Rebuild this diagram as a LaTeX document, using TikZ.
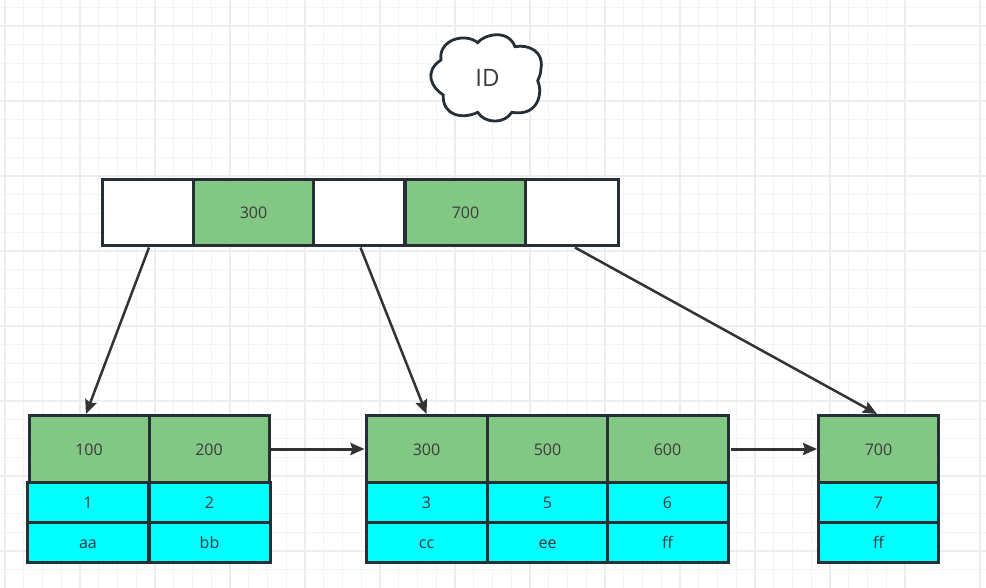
\documentclass[tikz,border=0pt]{standalone}
\usepackage{fontspec}
\setmainfont{Open Sans}
\usetikzlibrary{arrows.meta}
\definecolor{gridgray}{RGB}{243,244,245}
\definecolor{gridmajor}{RGB}{235,237,238}
\definecolor{keygreen}{RGB}{130,199,132}
\definecolor{rowcyan}{RGB}{0,255,255}
\definecolor{celldark}{RGB}{38,46,54}
\definecolor{textgray}{RGB}{60,60,60}
\definecolor{arrowgray}{RGB}{51,51,51}

\begin{document}
\begin{tikzpicture}[
  x=1pt, y=-1pt,
  cell/.style={
    draw=celldark,
    line width=3pt,
    minimum height=#1,
    inner sep=0pt,
    text height=12pt,
    text depth=0pt,
    text=textgray,
    font=\fontsize{16}{18}\selectfont
  },
  gapcell/.style={cell=66pt, fill=white, minimum width=91pt},
  keycell/.style={cell=67pt, fill=keygreen, minimum width=120pt},
  topcell/.style={cell=66pt, fill=keygreen, minimum width=120pt},
  datacell/.style={cell=40pt, fill=rowcyan, minimum width=121pt},
  idcloud/.style={draw=celldark, line width=2.8pt, fill=white},
  idtext/.style={inner sep=0pt, text=textgray, font=\fontsize{24}{28}\selectfont},
  line/.style={-{Stealth[length=14pt,width=12pt,inset=2pt]}, line width=2.5pt, draw=arrowgray}
]
\useasboundingbox (0,0) rectangle (986,588);
\fill[white] (0,0) rectangle (986,588);

% ===== Background grid =====
\foreach \i in {-4,...,48} {
  \draw[gridgray, line width=1.2pt] (5+18.75*\i,0) -- (5+18.75*\i,588);
}
\foreach \i in {-2,...,29} {
  \draw[gridgray, line width=1.2pt] (0,26+18.75*\i) -- (986,26+18.75*\i);
}
\foreach \i in {0,...,13} {
  \draw[gridmajor, line width=1.2pt] (5+75*\i,0) -- (5+75*\i,588);
}
\foreach \i in {0,...,7} {
  \draw[gridmajor, line width=1.2pt] (0,26+75*\i) -- (986,26+75*\i);
}

% ===== Cloud =====
\draw[idcloud] (477.7,42.7) .. controls (483,35) and (508,28) .. (515,46.7)
  .. controls (529,44) and (544,52) .. (541,68) .. controls (540.5,74) .. (537.7,80.7)
  .. controls (543,92) and (539,117) .. (511.7,112.3)
  .. controls (505,124) and (485,124) .. (477.7,112.3)
  .. controls (462,120) and (442,115) .. (443.3,95)
  .. controls (432,88) and (423,72) .. (441,60)
  .. controls (438,40) and (465,32) .. (477.7,42.7) -- cycle;
\node[idtext] (idlabel) at (487.5,78) {ID};

% ===== Top node =====
\node[gapcell] (gapa) at (147.5,213) {};
\node[gapcell] (gapb) at (359,213) {};
\node[gapcell, minimum width=93pt] (gapc) at (571.5,213) {};
\node[topcell] (top300) at (253.5,213) {300};
\node[topcell] (top700) at (465.5,213) {700};

% ===== Left leaf =====
\node[keycell] (key100) at (89,449) {100};
\node[keycell] (key200) at (209,449) {200};
\node[datacell] (row1) at (88,502) {1};
\node[datacell] (row2) at (209.5,502) {2};
\node[datacell] (rowaa) at (88,542) {aa};
\node[datacell] (rowbb) at (209.5,542) {bb};

% ===== Middle leaf =====
\node[keycell, minimum width=121pt] (key300) at (426.5,449) {300};
\node[keycell, minimum width=121pt] (key500) at (547.5,449) {500};
\node[keycell, minimum width=121pt] (key600) at (667.5,449) {600};
\node[datacell] (row3) at (426.5,502) {3};
\node[datacell] (row5) at (547.5,502) {5};
\node[datacell] (row6) at (667.5,502) {6};
\node[datacell] (rowcc) at (426.5,542) {cc};
\node[datacell] (rowee) at (547.5,542) {ee};
\node[datacell] (rowff) at (667.5,542) {ff};

% ===== Right leaf =====
\node[keycell] (key700) at (878.5,449) {700};
\node[datacell, minimum width=120pt] (row7) at (878.5,502) {7};
\node[datacell, minimum width=120pt] (rowfb) at (878.5,542) {ff};

% ===== Pointers =====
\draw[line] ([xshift=1.5pt]gapa.south) -- ([xshift=-3pt]key100.north);
\draw[line] ([xshift=1.5pt]gapb.south) -- (key300.north);
\draw[line] ([xshift=3.5pt]gapc.south) -- ([xshift=-1.5pt]key700.north);
\draw[line, line width=3pt] (key200.east) -- (key300.west);
\draw[line, line width=3pt, shorten <=1pt] (key600.east) -- (key700.west);

\end{tikzpicture}
\end{document}
